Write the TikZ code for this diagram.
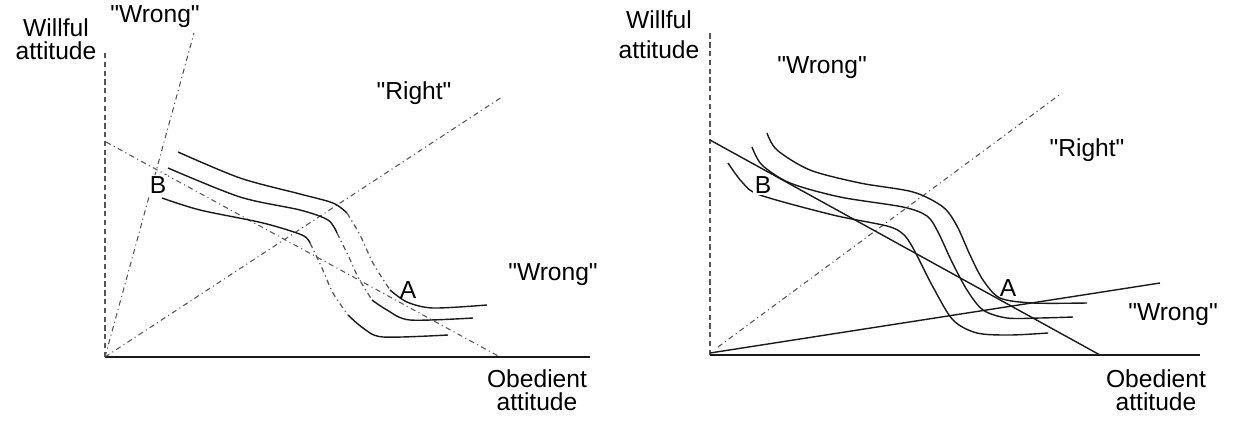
\documentclass[tikz,border=0pt]{standalone}
\usepackage{fontspec}
\setmainfont{Liberation Sans}[Ligatures=TeXOff]
\usetikzlibrary{positioning}
\definecolor{cInk}{HTML}{1a1a1a}
\definecolor{cGrey}{HTML}{555555}
\tikzset{
  axis/.style={line width=1.1pt,cInk},
  yaxis/.style={line width=0.7pt,cGrey,densely dashed},
  ray/.style={line width=0.6pt,cGrey,dash dot},
  budget/.style={line width=0.8pt,cInk},
  indiff/.style={line width=0.8pt,cInk},
  steep/.style={line width=0.7pt,cGrey,dash dot},
  lbl/.style={font=\fontsize{14}{13}\selectfont,align=center,inner sep=1pt},
}

\begin{document}
\begin{tikzpicture}[x=0.02cm,y=-0.02cm]
  \useasboundingbox (0,0) rectangle (1235,420);

  % left panel
  \coordinate (oL) at (105,357);
  \coordinate (yL) at (105,52);
  \coordinate (xL) at (590,357);
  \coordinate (wrongL) at (194,33);
  \coordinate (rightL) at (502,97);
  \coordinate (bTopL) at (106,142);
  \coordinate (bEndL) at (500,357);

  \draw[yaxis] (oL) -- (yL);
  \draw[axis] (oL) -- (xL);
  \draw[ray] (oL) -- (wrongL);
  \draw[ray] (oL) -- (rightL);
  \draw[ray] (bTopL) -- (bEndL);

  \draw[indiff] plot[smooth] coordinates {(178,152) (240,178) (300,194) (333,203) (347,213)};
  \draw[steep] plot[smooth] coordinates {(347,213) (360,235) (373,263) (390,290)};
  \draw[indiff] plot[smooth] coordinates {(390,290) (407,302) (433,308) (487,305)};

  \draw[indiff] plot[smooth] coordinates {(168,168) (240,197) (300,210) (328,220) (337,233)};
  \draw[steep] plot[smooth] coordinates {(337,233) (348,255) (358,277) (372,300)};
  \draw[indiff] plot[smooth] coordinates {(372,300) (387,310) (410,320) (473,318)};

  \draw[indiff] plot[smooth] coordinates {(162,198) (200,210) (263,223) (302,235) (310,243)};
  \draw[steep] plot[smooth] coordinates {(310,243) (322,268) (333,293) (348,315)};
  \draw[indiff] plot[smooth] coordinates {(348,315) (363,328) (383,337) (448,335)};

  \node[lbl] (willL) at (56,39) {Willful\\attitude};
  \node[lbl] (wrongTopL) at (155,17) {"Wrong"};
  \node[lbl] (rightLblL) at (414,93) {"Right"};
  \node[lbl] (wrongLowL) at (553,275) {"Wrong"};
  \node[lbl] (obedL) at (537,390) {Obedient\\attitude};
  \node[lbl,fill=white] (ptBL) at (158,185) {B};
  \node[lbl] (ptAL) at (408,290) {A};

  % right panel
  \coordinate (oR) at (710,355);
  \coordinate (yR) at (710,33);
  \coordinate (xR) at (1200,355);
  \coordinate (rightStartR) at (718,347);
  \coordinate (rightR) at (1062,93);
  \coordinate (bTopR) at (710,140);
  \coordinate (bEndR) at (1100,355);
  \coordinate (wrongStartR) at (710,353);
  \coordinate (wrongR) at (1160,283);

  \draw[yaxis] (oR) -- (yR);
  \draw[axis] (oR) -- (xR);
  \draw[ray] (rightStartR) -- (rightR);
  \draw[budget] (bTopR) -- (bEndR);
  \draw[budget] (wrongStartR) -- (wrongR);

  \draw[indiff] plot[smooth] coordinates {(767,133) (777,150) (810,170) (860,183) (913,192)
    (943,207) (957,226) (970,255) (983,280) (1000,298) (1033,303) (1087,303)};
  \draw[indiff] plot[smooth] coordinates {(752,147) (762,165) (790,183) (840,197) (903,207)
    (927,216) (938,232) (952,262) (967,290) (983,310) (1007,318) (1040,318) (1073,317)};
  \draw[indiff] plot[smooth] coordinates {(728,163) (742,182) (760,195) (833,215) (887,226)
    (903,234) (913,248) (933,287) (953,320) (977,333) (1010,335) (1048,333)};

  \node[lbl] (willR) at (659,35) {Willful\\[4pt]attitude};
  \node[lbl] (wrongTopR) at (822,68) {"Wrong"};
  \node[lbl] (rightLblR) at (1087,150) {"Right"};
  \node[lbl] (wrongLowR) at (1173,315) {"Wrong"};
  \node[lbl] (obedR) at (1156,390) {Obedient\\attitude};
  \node[lbl,fill=white] (ptBR) at (763,185) {B};
  \node[lbl] (ptAR) at (1008,288) {A};
\end{tikzpicture}
\end{document}
